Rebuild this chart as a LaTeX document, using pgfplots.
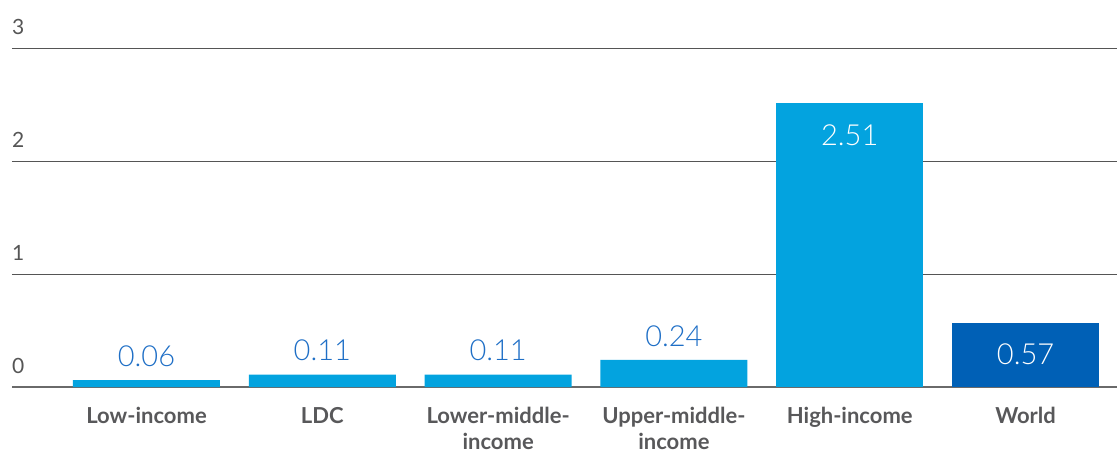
\documentclass[border=0pt]{standalone}
\usepackage{pgfplots}
\pgfplotsset{compat=1.18}
\usepackage{fontspec}
\setmainfont{Lato}
\newfontfamily\lightfont{Lato Light}

\definecolor{barblue}{HTML}{03A3DF}
\definecolor{worldblue}{HTML}{0060B6}
\definecolor{valblue}{HTML}{1F6FC6}
\definecolor{labelgray}{HTML}{58585A}
\definecolor{gridgray}{HTML}{555555}
\definecolor{axisgray}{HTML}{6A6A6A}

\begin{document}
\begin{tikzpicture}[x=1pt,y=1pt]
\begin{axis}[
  at={(12pt,69pt)}, anchor=south west,
  scale only axis,
  width=1105pt, height=339pt,
  xmin=-0.765, xmax=5.52,
  ymin=0, ymax=3,
  axis x line*=bottom,
  axis y line*=left,
  y axis line style={draw=none},
  x axis line style={draw=axisgray, line width=1.8pt},
  ytick={0,1,2,3},
  yticklabels={},
  ymajorgrids,
  grid style={draw=gridgray, line width=0.9pt},
  major tick length=0pt,
  xtick={0,1,2,3,4,5},
  xticklabels={Low-income, LDC, {Lower-middle-\\income}, {Upper-middle-\\income}, High-income, World},
  xticklabel style={font=\fontsize{22}{26}\selectfont\bfseries, text=labelgray, align=center, inner sep=1pt, yshift=-19pt},
  clip=false,
  ybar, bar width=147pt, bar shift=0pt,
  /pgf/number format/.cd, fixed, fixed zerofill, precision=2, assume math mode=true,
]
% value scale, written just above each grid line
\pgfplotsinvokeforeach{0,1,2,3}{
  \node[anchor=south west, inner sep=0pt, font=\fontsize{21}{21}\selectfont, text=gridgray]
    at (axis cs:-0.765,#1) [yshift=13pt] {#1};
}
% regional bars, values above
\addplot[fill=barblue, draw=none,
  nodes near coords,
  every node near coord/.append style={font=\lightfont\fontsize{29}{29}\selectfont, text=valblue, anchor=south, yshift=10pt}]
  coordinates {(0,0.06) (1,0.11) (2,0.11) (3,0.24)};
% high-income bar, value inside
\addplot[fill=barblue, draw=none,
  nodes near coords,
  every node near coord/.append style={font=\lightfont\fontsize{29}{29}\selectfont, text=white, anchor=north, yshift=-18pt}]
  coordinates {(4,2.51)};
% world bar, value inside
\addplot[fill=worldblue, draw=none,
  nodes near coords,
  every node near coord/.append style={font=\lightfont\fontsize{29}{29}\selectfont, text=white, anchor=north, yshift=-18pt}]
  coordinates {(5,0.57)};
\end{axis}
\pgfresetboundingbox
\path[use as bounding box] (0,0) rectangle (1117,456);
\end{tikzpicture}
\end{document}
